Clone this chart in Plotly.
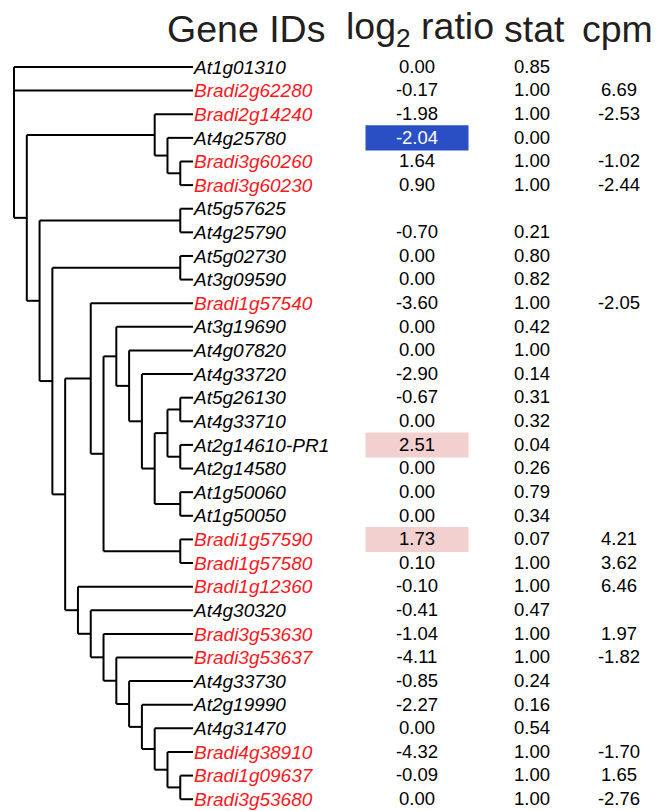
import plotly.graph_objects as go

# ---------------- data ----------------
genes = ["At1g01310", "Bradi2g62280", "Bradi2g14240", "At4g25780", "Bradi3g60260",
         "Bradi3g60230", "At5g57625", "At4g25790", "At5g02730", "At3g09590",
         "Bradi1g57540", "At3g19690", "At4g07820", "At4g33720", "At5g26130",
         "At4g33710", "At2g14610-PR1", "At2g14580", "At1g50060", "At1g50050",
         "Bradi1g57590", "Bradi1g57580", "Bradi1g12360", "At4g30320", "Bradi3g53630",
         "Bradi3g53637", "At4g33730", "At2g19990", "At4g31470", "Bradi4g38910",
         "Bradi1g09637", "Bradi3g53680"]

log2_ratio = [0.00, -0.17, -1.98, -2.04, 1.64, 0.90, None, -0.70, 0.00, 0.00,
              -3.60, 0.00, 0.00, -2.90, -0.67, 0.00, 2.51, 0.00, 0.00, 0.00,
              1.73, 0.10, -0.10, -0.41, -1.04, -4.11, -0.85, -2.27, 0.00, -4.32,
              -0.09, 0.00]

stat = [0.85, 1.00, 1.00, 0.00, 1.00, 1.00, None, 0.21, 0.80, 0.82,
        1.00, 0.42, 1.00, 0.14, 0.31, 0.32, 0.04, 0.26, 0.79, 0.34,
        0.07, 1.00, 1.00, 0.47, 1.00, 1.00, 0.24, 0.16, 0.54, 1.00,
        1.00, 1.00]

cpm = [None, 6.69, -2.53, None, -1.02, -2.44, None, None, None, None,
       -2.05, None, None, None, None, None, None, None, None, None,
       4.21, 3.62, 6.46, None, 1.97, -1.82, None, None, None, -1.70,
       1.65, -2.76]

# tree topology (nested lists, leaves are gene IDs)
tree = ["At1g01310", "Bradi2g62280",
        [["Bradi2g14240", ["At4g25780", ["Bradi3g60260", "Bradi3g60230"]]],
         [["At5g57625", "At4g25790"],
          [["At5g02730", "At3g09590"],
           [["Bradi1g57540",
             [["At3g19690", ["At4g07820", ["At4g33720",
                 [[["At5g26130", "At4g33710"], ["At2g14610-PR1", "At2g14580"]],
                  ["At1g50060", "At1g50050"]]]]],
              ["Bradi1g57590", "Bradi1g57580"]]],
            ["Bradi1g12360", ["At4g30320", ["Bradi3g53630", ["Bradi3g53637",
             ["At4g33730", ["At2g19990", ["At4g31470", ["Bradi4g38910",
              ["Bradi1g09637", "Bradi3g53680"]]]]]]]]]]]]]]

headers = ["Gene IDs", "log<sub>2</sub> ratio", "stat", "cpm"]

# ---------------- layout constants ----------------
W, H = 657, 811
ROW0, ROWSTEP = 67.0, 23.62      # pixel of first row, pixels per row
TREE_X0, TREE_STEP = 14.0, 12.79  # tree scale (pixels per level)
NAME_X = 194.0
COL_LOG, COL_STAT, COL_CPM = 417.0, 532.0, 619.0
HL_HALFW = 51.5
FONT = "Liberation Sans, Arial, sans-serif"
RED = "#f51a1f"
INK = "#231f20"
BLUE = "#2a4fc4"
PINK = "#f2d0d0"

row_of = {g: i for i, g in enumerate(genes)}


def height(node):
    if isinstance(node, str):
        return 0
    return 1 + max(height(c) for c in node)


MAXH = height(tree)

lx, ly = [], []


def layout(node):
    """returns (x_level, y_row) of node and appends line segments"""
    if isinstance(node, str):
        return MAXH, row_of[node]
    pos = [layout(c) for c in node]
    lvl = MAXH - height(node)
    ys = [p[1] for p in pos]
    y = (ys[0] + ys[-1]) / 2.0
    xn = TREE_X0 + lvl * TREE_STEP
    # vertical
    lx.extend([xn, xn, None]); ly.extend([ys[0], ys[-1], None])
    for (cl, cy) in pos:
        cx = TREE_X0 + cl * TREE_STEP
        lx.extend([xn, cx, None]); ly.extend([cy, cy, None])
    return lvl, y


layout(tree)

fig = go.Figure()

# highlight cells (significant stat)
for i, (v, s) in enumerate(zip(log2_ratio, stat)):
    if s is not None and s < 0.1:
        fig.add_shape(type="rect", xref="x", yref="y",
                      x0=COL_LOG - HL_HALFW, x1=COL_LOG + HL_HALFW,
                      y0=i - 0.53, y1=i + 0.53,
                      fillcolor=BLUE if v < 0 else PINK, line=dict(width=0),
                      layer="below")

fig.add_trace(go.Scatter(x=lx, y=ly, mode="lines",
                         line=dict(color="black", width=2),
                         hoverinfo="skip"))

rows = list(range(len(genes)))
fig.add_trace(go.Scatter(
    x=[NAME_X] * len(genes), y=[r + 0.08 for r in rows], mode="text",
    text=[f"<i>{g}</i>" for g in genes], textposition="middle right",
    textfont=dict(family=FONT, size=19,
                  color=[RED if g.startswith("Bradi") else "black" for g in genes]),
    hoverinfo="skip"))


def col_trace(xc, vals, colors=None):
    xs, ys, ts, cs = [], [], [], []
    for i, v in enumerate(vals):
        if v is None:
            continue
        xs.append(xc); ys.append(i + 0.05); ts.append(f"{v:.2f}")
        cs.append(colors[i] if colors else "black")
    fig.add_trace(go.Scatter(x=xs, y=ys, mode="text", text=ts,
                             textposition="middle center",
                             textfont=dict(family=FONT, size=18.5, color=cs),
                             hoverinfo="skip"))


log_colors = ["white" if (s is not None and s < 0.1 and v < 0) else "black"
              for v, s in zip(log2_ratio, stat)]
col_trace(COL_LOG, log2_ratio, log_colors)
col_trace(COL_STAT, stat)
col_trace(COL_CPM, cpm)

# headers
hx = [245.5, 420.0, 534.5, 617.5]
for t, x in zip(headers, hx):
    fig.add_annotation(x=x, y=(28.5 - ROW0) / ROWSTEP, xref="x", yref="y",
                       text=t, showarrow=False, xanchor="center", yanchor="middle",
                       font=dict(family=FONT, size=37.5, color=INK))

ytop = -ROW0 / ROWSTEP
ybot = (H - ROW0) / ROWSTEP
fig.update_layout(
    width=W, height=H, margin=dict(l=0, r=0, t=0, b=0),
    paper_bgcolor="white", plot_bgcolor="white", showlegend=False,
    xaxis=dict(range=[0, W], visible=False, fixedrange=True),
    yaxis=dict(range=[ybot, ytop], visible=False, fixedrange=True),
)

fig.write_html("out.html", config={"displayModeBar": False},
               post_script="document.body.style.margin='0';"
                           "document.body.style.overflow='hidden';")
